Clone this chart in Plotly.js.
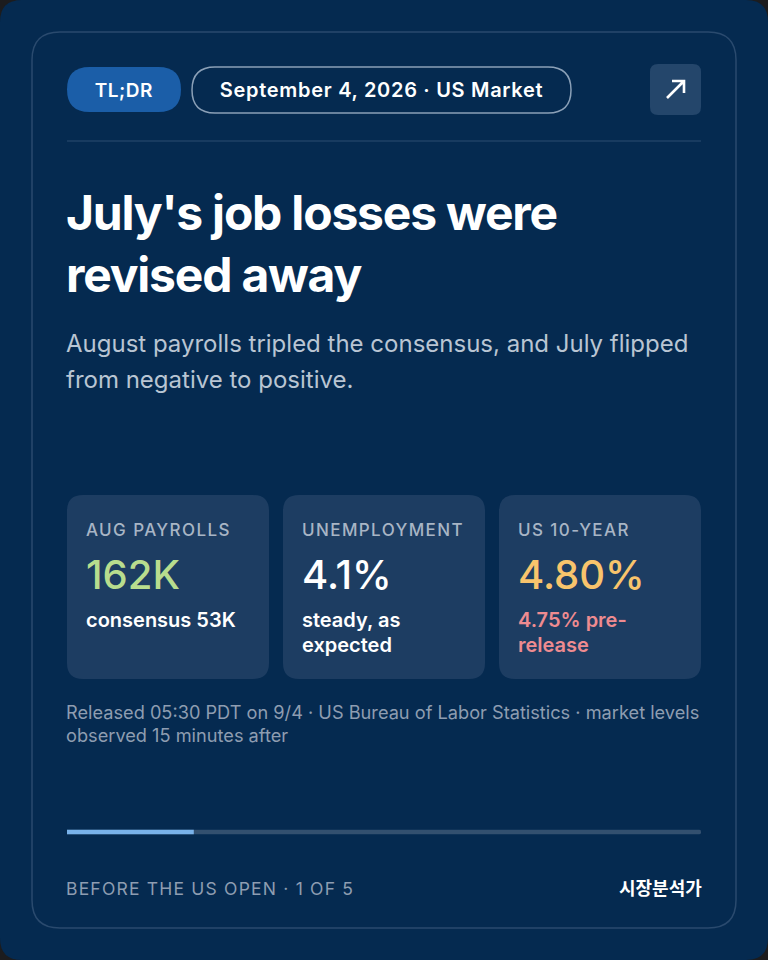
<!DOCTYPE html>
<html>
<head>
<meta charset="utf-8">
<script src="https://cdn.plot.ly/plotly-3.0.1.min.js"></script>
<style>
  html, body { margin: 0; padding: 0; background: #1c1c1e; }
  #card { width: 768px; height: 960px; }
</style>
</head>
<body>
<div id="card"></div>
<script>
// ---- content ----
const badgeText = "TL;DR";
const dateText = "September 4, 2026 · US Market";
const titleLines = ["July's job losses were", "revised away"];
const subtitleLines = ["August payrolls tripled the consensus, and July flipped", "from negative to positive."];

const statLabels = ["AUG PAYROLLS", "UNEMPLOYMENT", "US 10-YEAR"];
const statValues = ["162K", "4.1%", "4.80%"];
const statNotes = [["consensus 53K"], ["steady, as", "expected"], ["4.75% pre-", "release"]];
const statValueColors = ["#b8dd8e", "#ffffff", "#f8c46c"];
const statNoteColors = ["#ffffff", "#ffffff", "#ee8b90"];

const footnoteLines = [
  "Released 05:30 PDT on 9/4 · US Bureau of Labor Statistics · market levels",
  "observed 15 minutes after"
];
const slideIndex = 1;
const slideTotal = 5;
const footerLeft = "BEFORE THE US OPEN · 1 OF 5";
const footerRight = "시장분석가";

// ---- helpers (pixel -> paper) ----
const W = 768, H = 960;
const X = px => px / W;
const Y = py => 1 - py / H;
const FONT = "Inter, 'Noto Sans', sans-serif";
const PAD = 3; // annotation box padding, so text edges land on the given x

function roundRect(x0, y0, x1, y1, r) {
  const p = (x, y) => `${X(x)},${Y(y)}`;
  return `M${p(x0 + r, y0)} L${p(x1 - r, y0)} Q${p(x1, y0)} ${p(x1, y0 + r)}` +
    ` L${p(x1, y1 - r)} Q${p(x1, y1)} ${p(x1 - r, y1)}` +
    ` L${p(x0 + r, y1)} Q${p(x0, y1)} ${p(x0, y1 - r)}` +
    ` L${p(x0, y0 + r)} Q${p(x0, y0)} ${p(x0 + r, y0)} Z`;
}

const shapes = [];
const annotations = [];
const tracked = {}; // annotation index -> letter-spacing

const box = (x0, y0, x1, y1, r, fill, line, lw) =>
  shapes.push({
    type: "path", xref: "paper", yref: "paper",
    path: roundRect(x0, y0, x1, y1, r),
    fillcolor: fill, line: { color: line || fill, width: lw || 0 }, layer: "below"
  });

const text = (t, x, y, size, color, weight, opts = {}) => {
  const anchor = opts.anchor || "left";
  const px = anchor === "left" ? x - PAD : anchor === "right" ? x + PAD : x;
  if (opts.spacing) tracked[annotations.length] = opts.spacing;
  annotations.push({
    text: t, xref: "paper", yref: "paper", x: X(px), y: Y(y),
    xanchor: anchor, yanchor: "middle", showarrow: false,
    font: { family: opts.family || FONT, size, color, weight: weight || 400 }
  });
};

// background + card
box(0, 0, W, H, 22, "#052a50");
box(32, 32, 736, 928, 28, "#052a50", "#2a4a6e", 1.5);

// header
box(67, 67, 181, 112, 22.5, "#1b5ea8");
text(badgeText, 124, 90, 19, "#ffffff", 600, { anchor: "center", spacing: "0.5px" });
box(192, 67, 571, 113, 23, "rgba(0,0,0,0)", "#8ba0b7", 1.5);
text(dateText, 381.5, 90.5, 20, "#ffffff", 600, { anchor: "center", spacing: "0.7px" });
box(650, 64, 701, 115, 8, "#24466b");
shapes.push({
  type: "path", xref: "paper", yref: "paper",
  path: `M${X(667)},${Y(98)} L${X(684)},${Y(81)} M${X(672)},${Y(81)} L${X(684)},${Y(81)} L${X(684)},${Y(93)}`,
  line: { color: "#ffffff", width: 2.6 }
});
shapes.push({
  type: "line", xref: "paper", yref: "paper",
  x0: X(67), x1: X(701), y0: Y(141), y1: Y(141),
  line: { color: "#2c4c70", width: 1.2 }
});

// title + subtitle
text(titleLines[0], 67, 212, 48, "#ffffff", 700, { spacing: "-1.2px" });
text(titleLines[1], 67, 274, 48, "#ffffff", 700, { spacing: "-1.2px" });
text(subtitleLines[0], 67, 343, 24, "#b9c5d3", 400);
text(subtitleLines[1], 67, 380, 24, "#b9c5d3", 400);

// stat cards
const cardX = [67, 283, 499];
statLabels.forEach((lab, i) => {
  const x0 = cardX[i];
  box(x0, 495, x0 + 202, 679, 16, "#1d3d62");
  text(lab, x0 + 20, 530, 17, "#a8b5c5", 500, { spacing: "1.4px" });
  text(statValues[i], x0 + 20, 574, 40, statValueColors[i], 500);
  statNotes[i].forEach((ln, j) =>
    text(ln, x0 + 20, 620 + j * 25, 20, statNoteColors[i], 600));
});

// footnote
footnoteLines.forEach((ln, j) => text(ln, 67, 712 + j * 23, 18.2, "#8e9db1", 400));

// footer
text(footerLeft, 67, 888, 17.5, "#8e9db1", 400, { spacing: "1.2px" });
text(footerRight, 701, 887, 18, "#ffffff", 700, { anchor: "right", family: "'Noto Sans CJK KR', sans-serif" });

// progress bar (slide 1 of 5)
const traces = [
  {
    type: "bar", orientation: "h", y: [0], x: [slideTotal],
    xaxis: "x2", yaxis: "y2", width: 1,
    marker: { color: "#33506f", cornerradius: 2 }, hoverinfo: "skip"
  },
  {
    type: "bar", orientation: "h", y: [0], x: [slideIndex],
    xaxis: "x2", yaxis: "y2", width: 1,
    marker: { color: "#79b2ea", cornerradius: 2 }, hoverinfo: "skip"
  }
];

const layout = {
  width: W, height: H,
  margin: { l: 0, r: 0, t: 0, b: 0 },
  paper_bgcolor: "#1c1c1e", plot_bgcolor: "rgba(0,0,0,0)",
  showlegend: false, barmode: "overlay",
  xaxis: { visible: false }, yaxis: { visible: false },
  xaxis2: { domain: [X(67), X(701)], range: [0, slideTotal], visible: false, anchor: "y2", fixedrange: true },
  yaxis2: { domain: [Y(834.5), Y(829.5)], range: [-0.5, 0.5], visible: false, anchor: "x2", fixedrange: true },
  shapes, annotations
};

Plotly.newPlot("card", traces, layout, { displayModeBar: false, staticPlot: true }).then(gd => {
  // letter-spacing after layout; keep the anchored edge where Plotly put it
  for (const i in tracked) {
    const anchor = annotations[i].xanchor;
    gd.querySelectorAll(`.annotation[data-index="${i}"] text.annotation-text`).forEach(t => {
      const b0 = t.getBBox();
      t.style.letterSpacing = tracked[i];
      const b1 = t.getBBox();
      let dx;
      if (anchor === "left") dx = b0.x - b1.x;
      else if (anchor === "right") dx = (b0.x + b0.width) - (b1.x + b1.width);
      else dx = (b0.x + b0.width / 2) - (b1.x + b1.width / 2);
      t.setAttribute("x", parseFloat(t.getAttribute("x") || 0) + dx);
    });
  }
});
</script>
</body>
</html>
